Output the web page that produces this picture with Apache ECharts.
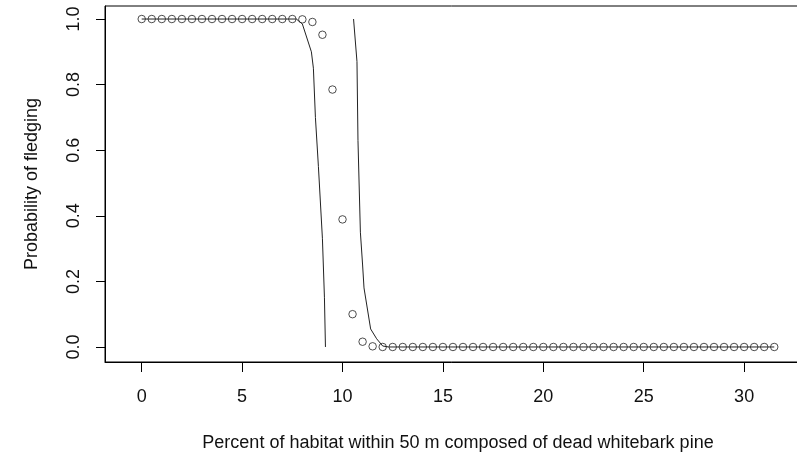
<!DOCTYPE html>
<html>
<head>
<meta charset="utf-8">
<script src="https://cdn.jsdelivr.net/npm/echarts@6/dist/echarts.min.js"></script>
<style>html,body{margin:0;padding:0;background:#fff}#c{width:797px;height:452px}</style>
</head>
<body>
<div id="c"></div>
<script>
// Observed points: percent dead whitebark pine vs probability of fledging
var pointX = [0,0.5,1,1.5,2,2.5,3,3.5,4,4.5,5,5.5,6,6.5,7,7.5,8,8.5,9,9.5,10,10.5,11,11.5,12,12.5,13,13.5,14,14.5,15,15.5,16,16.5,17,17.5,18,18.5,19,19.5,20,20.5,21,21.5,22,22.5,23,23.5,24,24.5,25,25.5,26,26.5,27,27.5,28,28.5,29,29.5,30,30.5,31,31.5];
var pointY = [1,1,1,1,1,1,1,1,1,1,1,1,1,1,1,1,0.999,0.991,0.952,0.785,0.389,0.10,0.016,0.002,0,0,0,0,0,0,0,0,0,0,0,0,0,0,0,0,0,0,0,0,0,0,0,0,0,0,0,0,0,0,0,0,0,0,0,0,0,0,0,0];
// Lower confidence bound curve
var lowerX = [0,7.7,8.0,8.45,8.55,8.65,8.8,9.0,9.1,9.15];
var lowerY = [1,1,0.985,0.90,0.85,0.70,0.55,0.33,0.15,0];
// Upper confidence bound curve
var upperX = [10.55,10.72,10.77,10.89,11.0,11.07,11.4,11.7,12.0,12.3,31.5];
var upperY = [1,0.87,0.63,0.35,0.25,0.18,0.055,0.025,0.003,0,0];
// Tick labels
var xTicks = [0,5,10,15,20,25,30];
var yTicks = [0,0.2,0.4,0.6,0.8,1.0];

function pairs(xs, ys){ return xs.map(function(x,i){ return [x, ys[i]]; }); }

var font = 'Liberation Sans, Arial, sans-serif';
var chart = echarts.init(document.getElementById('c'), null, {renderer:'canvas'});
chart.setOption({
  animation: false,
  backgroundColor: '#fff',
  grid: {left:105, top:6, width:706, height:356, containLabel:false, outerBoundsMode:'none',
         show:true, borderColor:'#000', borderWidth:1, backgroundColor:'transparent'},
  xAxis: {
    type:'value', min:-1.828, max:33.33,
    name:'Percent of habitat within 50 m composed of dead whitebark pine',
    nameLocation:'middle', nameGap:72,
    nameTextStyle:{fontFamily:font, fontSize:18, color:'#111'},
    axisLine:{show:true, onZero:false, lineStyle:{color:'#000', width:1}},
    axisTick:{show:true, length:10, customValues:xTicks, lineStyle:{color:'#000'}},
    axisLabel:{show:true, customValues:xTicks, margin:26, fontFamily:font, fontSize:18, color:'#111'},
    splitLine:{show:false}
  },
  yAxis: {
    type:'value', min:-0.0458, max:1.0397,
    name:'Probability of fledging',
    nameLocation:'middle', nameGap:64, nameRotate:90,
    nameTextStyle:{fontFamily:font, fontSize:18, color:'#111'},
    axisLine:{show:true, onZero:false, lineStyle:{color:'#000', width:1}},
    axisTick:{show:true, length:9, customValues:yTicks, lineStyle:{color:'#000'}},
    axisLabel:{show:true, customValues:yTicks, rotate:90, margin:22, fontFamily:font, fontSize:18, color:'#111',
      formatter:function(v){ return v.toFixed(1); }},
    splitLine:{show:false}
  },
  series: [
    {type:'scatter', data:pairs(pointX, pointY), symbol:'circle', symbolSize:7.5,
     itemStyle:{color:'rgba(0,0,0,0)', borderColor:'#222', borderWidth:1}, z:2},
    {type:'line', data:pairs(lowerX, lowerY), showSymbol:false, symbol:'none',
     lineStyle:{color:'#222', width:1}, z:3},
    {type:'line', data:pairs(upperX, upperY), showSymbol:false, symbol:'none',
     lineStyle:{color:'#222', width:1}, z:3}
  ]
});
</script>
</body>
</html>
